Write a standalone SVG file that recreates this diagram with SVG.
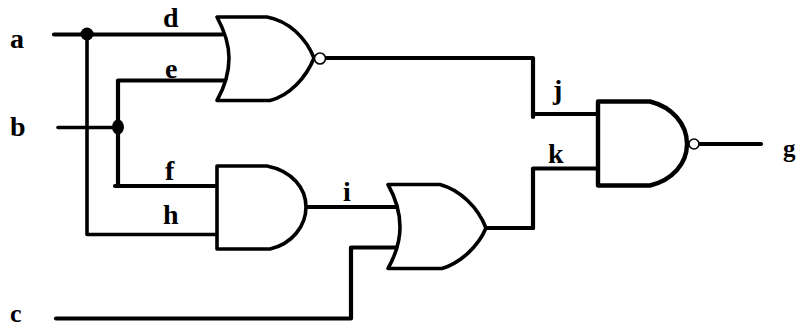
<svg xmlns="http://www.w3.org/2000/svg" width="796" height="328" viewBox="0 0 796 328">
<style>
.w{fill:none;stroke:#000;stroke-width:4.2;stroke-linecap:round;stroke-linejoin:round}
.t{stroke-width:3.6}
.g{fill:#fff;stroke:#000;stroke-width:3.6;stroke-linejoin:round}
.b{fill:#fff;stroke:#000;stroke-width:1.6}
text{font-family:"Liberation Serif",serif;font-weight:bold;font-size:28px;fill:#000}
</style>
<rect width="796" height="328" fill="#fff"/>
<g id="connectors">
<path class="w" d="M54 34.500H222"/>
<path class="w t" d="M87 34V234.500H217"/>
<path class="w t" d="M58 127.500H118"/>
<path class="w" d="M224 80.500H118V186H115M118 186H217"/>
<path class="w" d="M326 58H533V117"/>
<path class="w" d="M534 114H598"/>
<path class="w" d="M533 228V168.500H598"/>
<path class="w" d="M486 228H533"/>
<path class="w" d="M307 207H396"/>
<path class="w" d="M56 318.500H351V247.500H398"/>
<path class="w" d="M700 144H761"/>
<circle cx="87" cy="34" r="6.500"/>
<ellipse cx="118" cy="127" rx="6" ry="7.500"/>
</g>
<g id="gate-or-nor">
<path class="g" d="M217 17H267C289 21 306 38 314 58C306 78 289 96 270 100.500H217C224 88 229 72 229 58C229 44 224 30 217 17Z"/>
<circle class="b" cx="320" cy="58.500" r="5.500"/>
</g>
<g id="gate-and">
<path class="g" d="M217 166H267C292 171 306 188 306 207C306 226 292 244 270 249H217Z"/>
</g>
<g id="gate-or">
<path class="g" d="M388 184.500H440C460 190 478 207 486 228C478 247 460 263 442 268.500H388C395 256 400 242 400 227C400 212 395 197 388 184.500Z"/>
</g>
<g id="gate-nand">
<path class="g" style="stroke-width:4.4" d="M598 101.500H650C672 107 687 124 687 144C687 164 672 180 650 185.500H598Z"/>
<circle class="b" cx="694" cy="144" r="5"/>
</g>
<g id="labels">
<text x="10" y="48">a</text>
<text x="10" y="136">b</text>
<text x="10" y="322" style="font-size:26px">c</text>
<text x="163" y="27">d</text>
<text x="165" y="78">e</text>
<text x="165" y="180">f</text>
<text x="163" y="224">h</text>
<text x="343" y="201">i</text>
<text x="553" y="99">j</text>
<text x="548" y="163">k</text>
<text x="783" y="157" style="font-size:25px">g</text>
</g>
</svg>
